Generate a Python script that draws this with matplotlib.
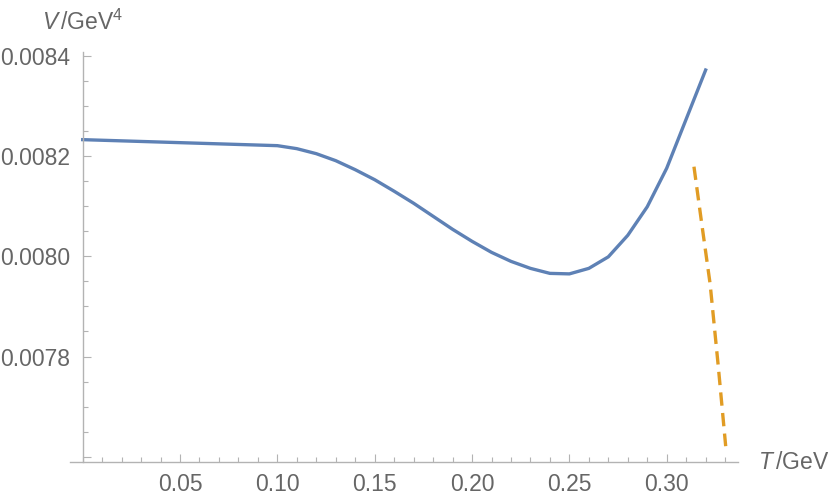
import numpy as np
import matplotlib.pyplot as plt
from matplotlib.ticker import MultipleLocator, FixedLocator

plt.rcParams['font.family'] = 'Liberation Sans'
plt.rcParams['mathtext.fontset'] = 'custom'
plt.rcParams['mathtext.rm'] = 'Liberation Sans'
plt.rcParams['mathtext.it'] = 'Liberation Sans:italic'

# potential V(T)
T_blue = [0.00, 0.10, 0.11, 0.12, 0.13, 0.14, 0.15, 0.16, 0.17, 0.18, 0.19, 0.20,
          0.21, 0.22, 0.23, 0.24, 0.25, 0.26, 0.27, 0.28, 0.29, 0.30, 0.31, 0.32]
V_blue = [0.008233, 0.008221, 0.008215, 0.008205, 0.008191, 0.008173, 0.008153,
          0.008130, 0.008106, 0.008080, 0.008054, 0.008030, 0.008008, 0.007990,
          0.007976, 0.007966, 0.007965, 0.007976, 0.007999, 0.008042, 0.008099,
          0.008176, 0.008274, 0.008372]

T_orange = [0.3140, 0.3180, 0.3223, 0.3265, 0.3303]
V_orange = [0.008179, 0.008065, 0.007945, 0.007780, 0.007621]

blue = '#5E81B5'
orange = '#E19C24'
grey_txt = '#666666'
grey_ax = '#b3b3b3'

fig = plt.figure(figsize=(8.3, 5.01), dpi=100)
W, H = 830, 501
x0, x1, yb, yt = 70, 738, 462.3, 52
ax = fig.add_axes([x0 / W, 1 - yb / H, (x1 - x0) / W, (yb - yt) / H])

ax.plot(T_blue, V_blue, color=blue, lw=2.4, solid_joinstyle='round')
ax.plot(T_orange, V_orange, color=orange, lw=2.4, dashes=(4, 2.2))

ax.set_xlim(-0.00652, 0.33662)
ax.set_ylim(0.0075888, 0.008408)

for s in ['top', 'right']:
    ax.spines[s].set_visible(False)
ax.spines['left'].set_position(('data', 0))
for s in ['left', 'bottom']:
    ax.spines[s].set_color(grey_ax)
    ax.spines[s].set_linewidth(1.0)

ax.xaxis.set_major_locator(FixedLocator([0.05, 0.10, 0.15, 0.20, 0.25, 0.30]))
ax.xaxis.set_minor_locator(MultipleLocator(0.01))
ax.set_xticklabels(['0.05', '0.10', '0.15', '0.20', '0.25', '0.30'])
ax.yaxis.set_major_locator(FixedLocator([0.0076, 0.0078, 0.0080, 0.0082, 0.0084]))
ax.yaxis.set_minor_locator(MultipleLocator(0.00005))
ax.set_yticklabels(['', '0.0078', '0.0080', '0.0082', '0.0084'])

ax.tick_params(which='both', direction='in', color=grey_ax, labelcolor=grey_txt,
               labelsize=16.5, width=0.8)
ax.tick_params(which='major', length=6)
ax.tick_params(which='minor', length=3.6)
ax.tick_params(axis='x', which='major', pad=8)
ax.tick_params(axis='y', which='major', pad=9)

fig.text(82.7 / W, 1 - 30 / H, r'$V\,/\mathrm{GeV}^{4}$', ha='center',
         va='baseline', fontsize=16.5, color=grey_txt)
fig.text(758 / W, 1 - 462.3 / H, r'$T\,/\mathrm{GeV}$', ha='left',
         va='center', fontsize=16.5, color=grey_txt)

fig.savefig('out.png', dpi=100)
